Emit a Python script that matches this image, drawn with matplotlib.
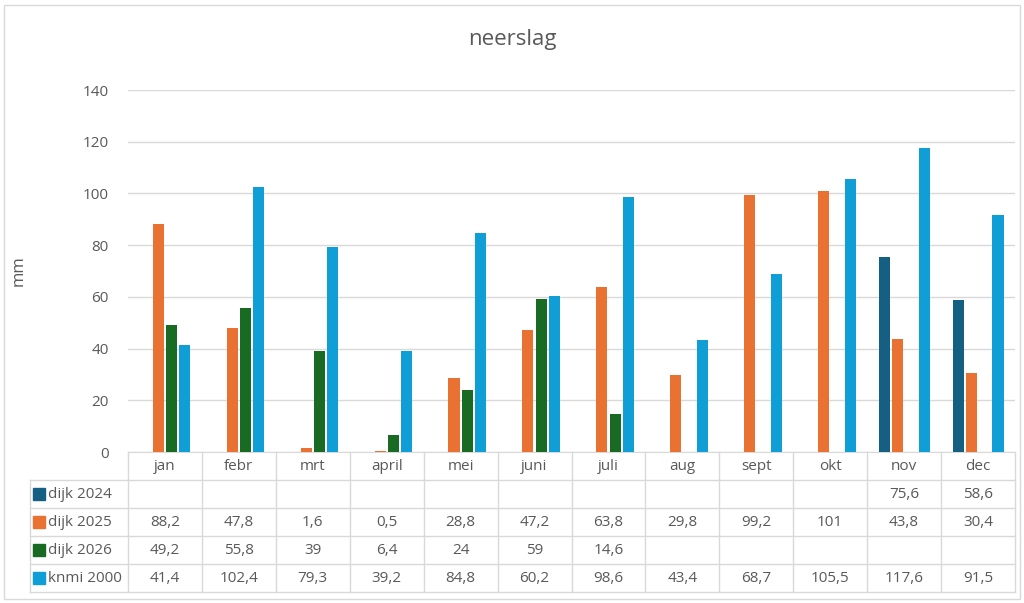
import numpy as np
import matplotlib
matplotlib.use("Agg")
import matplotlib.pyplot as plt
from matplotlib.patches import Rectangle

months = ["jan", "febr", "mrt", "april", "mei", "juni", "juli", "aug", "sept", "okt", "nov", "dec"]
series_names = ["dijk 2024", "dijk 2025", "dijk 2026", "knmi 2000"]
dijk_2024 = [None] * 10 + [75.6, 58.6]
dijk_2025 = [88.2, 47.8, 1.6, 0.5, 28.8, 47.2, 63.8, 29.8, 99.2, 101, 43.8, 30.4]
dijk_2026 = [49.2, 55.8, 39, 6.4, 24, 59, 14.6] + [None] * 5
knmi_2000 = [41.4, 102.4, 79.3, 39.2, 84.8, 60.2, 98.6, 43.4, 68.7, 105.5, 117.6, 91.5]
series = [dijk_2024, dijk_2025, dijk_2026, knmi_2000]
colors = ["#156082", "#E97132", "#196B24", "#0F9ED5"]

plt.rcParams["font.family"] = ["Open Sans", "DejaVu Sans"]
txt = "#595959"
grid = "#D9D9D9"

fig = plt.figure(figsize=(10.24, 6.03), dpi=100)
fig.patches.append(Rectangle((0.004, 0.006), 0.992, 0.985, transform=fig.transFigure,
                             fill=False, edgecolor=grid, lw=1))
ax = fig.add_axes([128 / 1024, 1 - 452 / 603, 887 / 1024, 362 / 603])

x = np.arange(len(months))
step, width = 0.18, 0.15
for i, (vals, c) in enumerate(zip(series, colors)):
    v = [np.nan if a is None else a for a in vals]
    ax.bar(x + (i - 1.5) * step, v, width, color=c, zorder=3)

ax.set_xlim(-0.5, len(months) - 0.5)
ax.set_ylim(0, 140)
ax.set_yticks(range(0, 141, 20))
ax.yaxis.grid(True, color=grid, lw=1, zorder=0)
ax.tick_params(axis="y", length=0, labelsize=11, colors=txt, pad=14)
ax.set_xticks([])
for s in ["top", "right", "left"]:
    ax.spines[s].set_visible(False)
ax.spines["bottom"].set_color(grid)
ax.set_ylabel("mm", fontsize=12, color=txt, labelpad=40)
fig.text(0.5, 1 - 40 / 603, "neerslag", ha="center", va="center", fontsize=16, color=txt)

# data table below the axis
row_h = 28 / 362
left_x = -98 / 887 * len(months) - 0.5
tr = ax.get_xaxis_transform()
n_rows = 5
bottom = -n_rows * row_h
# vertical lines between categories
for k in range(len(months) + 1):
    ax.plot([k - 0.5, k - 0.5], [0, bottom], transform=tr, color=grid, lw=1, clip_on=False)
ax.plot([left_x, left_x], [-row_h, bottom], transform=tr, color=grid, lw=1, clip_on=False)
for r in range(1, n_rows + 1):
    ax.plot([left_x, len(months) - 0.5], [-r * row_h] * 2, transform=tr, color=grid, lw=1, clip_on=False)
for k, m in enumerate(months):
    ax.text(k, -0.5 * row_h, m, transform=tr, ha="center", va="center", fontsize=11, color=txt)
for r, (name, vals, c) in enumerate(zip(series_names, series, colors)):
    yc = -(r + 1.5) * row_h
    ax.plot([left_x + 0.12], [yc], transform=tr, marker="s", ms=8, color=c, clip_on=False)
    ax.text(left_x + 0.25, yc, name, transform=tr, ha="left", va="center", fontsize=11, color=txt)
    for k, v in enumerate(vals):
        if v is not None:
            s = f"{v:g}".replace(".", ",")
            ax.text(k, yc, s, transform=tr, ha="center", va="center", fontsize=11, color=txt)

fig.savefig("out.png", dpi=100)
